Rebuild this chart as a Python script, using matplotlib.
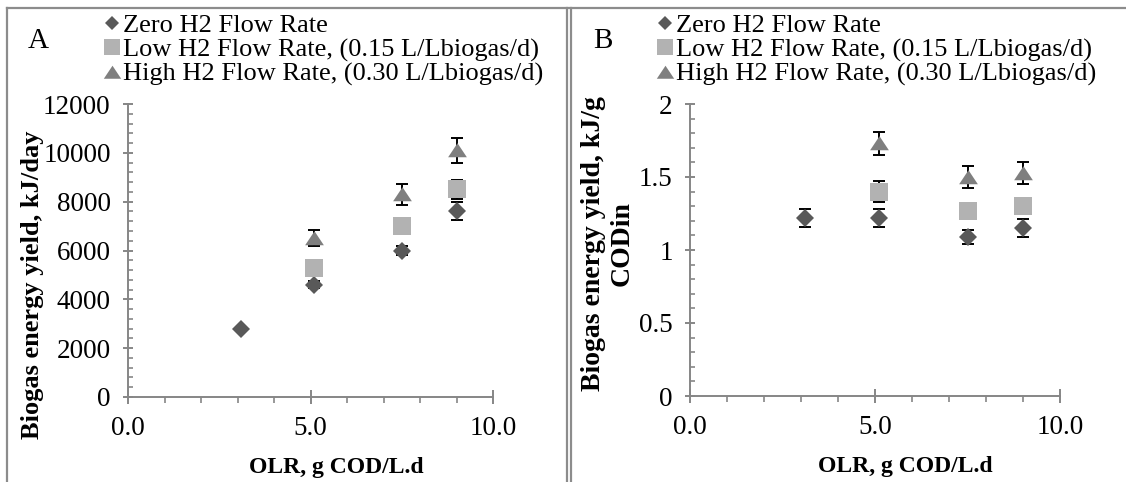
import numpy as np
import matplotlib
matplotlib.use("Agg")
import matplotlib.pyplot as plt
from matplotlib.lines import Line2D
from matplotlib.ticker import MultipleLocator, FuncFormatter

# Data
olr = [3.1, 5.1, 7.5, 9.0]
olr_h2 = [5.1, 7.5, 9.0]

labels = ["Zero H2 Flow Rate",
          "Low H2 Flow Rate, (0.15 L/Lbiogas/d)",
          "High H2 Flow Rate, (0.30 L/Lbiogas/d)"]

# A: biogas energy yield, kJ/day
zero_kj = [2780, 4600, 6000, 7600]
zero_kj_err = [0, 150, 180, 370]
low_kj = [5300, 7000, 8500]
low_kj_err = [120, 130, 400]
high_kj = [6500, 8300, 10100]
high_kj_err = [330, 420, 500]

# B: biogas energy yield, kJ/g CODin
zero_cod = [1.22, 1.22, 1.09, 1.15]
zero_cod_err = [0.06, 0.06, 0.05, 0.06]
low_cod = [1.40, 1.27, 1.30]
low_cod_err = [0.07, 0.03, 0.03]
high_cod = [1.73, 1.50, 1.53]
high_cod_err = [0.08, 0.075, 0.075]

plt.rcParams['font.family'] = ['Liberation Serif', 'DejaVu Serif']

W, H = 1126, 482
fig = plt.figure(figsize=(W / 100, H / 100), dpi=100)

axis_gray = '#868686'
c_zero, c_low, c_high = '#595959', '#b2b2b2', '#7f7f7f'
# flat triangle like the spreadsheet marker
tri = [(-1, -0.72), (1, -0.72), (0, 0.78)]


def px(x, y):
    return x / W, 1 - y / H


def make_panel(rect, series, ymax, ystep, yminor, yfmt):
    ax = fig.add_axes(rect)
    for xs, ys, es, c, m, ms in series:
        ax.errorbar(xs, ys, yerr=es, fmt='none', ecolor='black',
                    elinewidth=1.4, capsize=4.5, capthick=1.4, zorder=2)
        ax.plot(xs, ys, linestyle='none', marker=m, markersize=ms,
                color=c, markeredgewidth=0, zorder=3)
    ax.set_xlim(0, 10)
    ax.set_ylim(0, ymax)
    ax.xaxis.set_major_locator(MultipleLocator(5))
    ax.xaxis.set_minor_locator(MultipleLocator(1))
    ax.yaxis.set_major_locator(MultipleLocator(ystep))
    ax.yaxis.set_minor_locator(MultipleLocator(yminor))
    ax.xaxis.set_major_formatter(FuncFormatter(lambda v, p: f"{v:.1f}"))
    ax.yaxis.set_major_formatter(FuncFormatter(yfmt))
    for s in ['top', 'right']:
        ax.spines[s].set_visible(False)
    for s in ['left', 'bottom']:
        ax.spines[s].set_color(axis_gray)
        ax.spines[s].set_linewidth(1.4)
    ax.tick_params(axis='y', which='major', direction='inout', length=7,
                   width=1.4, color=axis_gray, labelsize=19.5, pad=9)
    ax.tick_params(axis='y', which='minor', direction='in', length=3.5,
                   width=1.2, color=axis_gray)
    ax.tick_params(axis='x', which='major', direction='inout', length=10,
                   width=1.4, color=axis_gray, labelsize=19.5, pad=9)
    ax.tick_params(axis='x', which='minor', direction='out', length=4.5,
                   width=1.2, color=axis_gray)
    ax.patch.set_alpha(0)
    return ax


rect_a = [128 / W, 1 - 397 / H, 365 / W, 293 / H]
rect_b = [690 / W, 1 - 396 / H, 370 / W, 292 / H]

ax_a = make_panel(rect_a,
                  [(olr, zero_kj, zero_kj_err, c_zero, 'D', 9.5),
                   (olr_h2, low_kj, low_kj_err, c_low, 's', 13),
                   (olr_h2, high_kj, high_kj_err, c_high, tri, 13.5)],
                  12000, 2000, 400, lambda v, p: f"{v:.0f}")
ax_b = make_panel(rect_b,
                  [(olr, zero_cod, zero_cod_err, c_zero, 'D', 9.5),
                   (olr_h2, low_cod, low_cod_err, c_low, 's', 13),
                   (olr_h2, high_cod, high_cod_err, c_high, tri, 13.5)],
                  2, 0.5, 0.1, lambda v, p: f"{v:g}")

# axis titles
for ax, xc in [(ax_a, 0.57), (ax_b, 0.581)]:
    ax.set_xlabel("OLR, g COD/L.d", fontsize=17, fontweight='bold')
    ax.xaxis.label.set_va('center')
    ax.xaxis.set_label_coords(xc, -0.24)

fig.text(*px(33, 439), "Biogas energy yield, kJ/day", rotation=90,
         ha='center', va='bottom', fontsize=19, fontweight='bold')
fig.text(*px(608, 244), "Biogas energy yield, kJ/g\nCODin", rotation=90,
         ha='center', va='center', fontsize=20, fontweight='bold',
         multialignment='center', linespacing=1.2)

# panel letters
fig.text(*px(38, 41), "A", fontsize=21, ha='center', va='center')
fig.text(*px(603, 41), "B", fontsize=21, ha='center', va='center')

# legends
handles = [Line2D([], [], linestyle='none', marker='D', markersize=7.5,
                  color=c_zero, markeredgewidth=0),
           Line2D([], [], linestyle='none', marker='s', markersize=11,
                  color=c_low, markeredgewidth=0),
           Line2D([], [], linestyle='none', marker=tri, markersize=12.5,
                  color=c_high, markeredgewidth=0)]
for ax, x0 in [(ax_a, 103), (ax_b, 656)]:
    ax.legend(handles, labels, loc='upper left', bbox_to_anchor=px(x0, 14),
              bbox_transform=fig.transFigure, frameon=False, fontsize=19,
              handlelength=0.65, handletextpad=0.1, labelspacing=0.02,
              borderpad=0, borderaxespad=0)

# frame lines of the two panels
line_kw = dict(transform=fig.transFigure, color='#8c8c8c', linewidth=1.6)
fig.add_artist(Line2D([7.5 / W, 1], [1 - 7.5 / H] * 2, **line_kw))
fig.add_artist(Line2D([7.5 / W] * 2, [0, 1 - 7.5 / H], **line_kw))
fig.add_artist(Line2D([567 / W] * 2, [0, 1 - 7.5 / H], **line_kw))
fig.add_artist(Line2D([571 / W] * 2, [0, 1 - 7.5 / H], **line_kw))

fig.savefig("out.png", dpi=100)
